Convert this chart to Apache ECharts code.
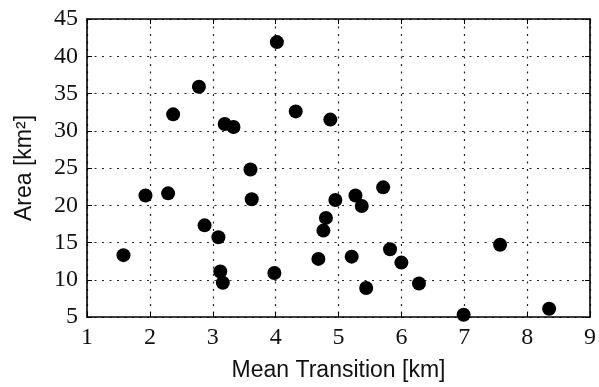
<!DOCTYPE html>
<html>
<head>
<meta charset="utf-8">
<script src="https://cdn.jsdelivr.net/npm/echarts@6/dist/echarts.min.js"></script>
<style>
  html, body { margin: 0; padding: 0; background: #fff; }
  #chart { width: 599px; height: 387px; }
</style>
</head>
<body>
<div id="chart"></div>
<script>
// mean transition [km] and area [km^2] per point
const meanTransition = [
  1.58, 1.93, 2.29, 2.37, 2.78, 2.87, 3.09, 3.12, 3.16, 3.19, 3.33,
  3.60, 3.62, 4.02, 3.98, 4.32, 4.68, 4.76, 4.80, 4.87, 4.95, 5.21,
  5.27, 5.37, 5.44, 5.71, 5.82, 6.00, 6.28, 6.99, 7.57, 8.35
];
const area = [
  13.3, 21.3, 21.6, 32.2, 35.9, 17.3, 15.7, 11.1, 9.6, 30.9, 30.5,
  24.8, 20.8, 41.9, 10.9, 32.6, 12.8, 16.6, 18.3, 31.5, 20.7, 13.1,
  21.3, 19.9, 8.9, 22.4, 14.1, 12.3, 9.5, 5.3, 14.7, 6.1
];
const xTicks = ['1', '2', '3', '4', '5', '6', '7', '8', '9'];
const yTicks = ['5', '10', '15', '20', '25', '30', '35', '40', '45'];

const points = meanTransition.map((x, i) => [x, area[i]]);

const chart = echarts.init(document.getElementById('chart'), null, { renderer: 'canvas' });

const tickFont = {
  fontFamily: 'Liberation Serif',
  fontSize: 24,
  color: '#111'
};

const gridLine = {
  show: true,
  lineStyle: { color: '#222', width: 1.2, type: [2, 5.5] }
};

const frameLine = { show: true, onZero: false, lineStyle: { color: '#000', width: 1.6 } };
const innerTick = { show: true, inside: true, length: 5, lineStyle: { color: '#000', width: 1 } };

chart.setOption({
  animation: false,
  grid: { left: 87, right: 6, top: 19, bottom: 64, containLabel: false },
  xAxis: [
    {
      type: 'value',
      min: 1, max: 9, interval: 1,
      name: 'Mean Transition [km]',
      nameLocation: 'middle',
      nameGap: 42,
      nameTextStyle: { fontFamily: 'Liberation Sans', fontSize: 23, color: '#111' },
      axisLine: frameLine,
      axisTick: innerTick,
      splitLine: gridLine,
      axisLabel: Object.assign({ margin: 9, formatter: v => xTicks[v - 1] }, tickFont)
    },
    {
      type: 'value', position: 'top',
      min: 1, max: 9, interval: 1,
      axisLine: frameLine,
      axisTick: innerTick,
      splitLine: { show: false },
      axisLabel: { show: false }
    }
  ],
  yAxis: [
    {
      type: 'value',
      min: 5, max: 45, interval: 5,
      name: 'Area [km²]',
      nameLocation: 'middle',
      nameGap: 51,
      nameRotate: 90,
      nameTextStyle: { fontFamily: 'Liberation Sans', fontSize: 23, color: '#111' },
      axisLine: frameLine,
      axisTick: innerTick,
      splitLine: gridLine,
      axisLabel: Object.assign({ margin: 9, formatter: v => yTicks[(v - 5) / 5] }, tickFont)
    },
    {
      type: 'value', position: 'right',
      min: 5, max: 45, interval: 5,
      axisLine: frameLine,
      axisTick: innerTick,
      splitLine: { show: false },
      axisLabel: { show: false }
    }
  ],
  series: [
    {
      type: 'scatter',
      data: points,
      symbol: 'circle',
      symbolSize: 14,
      itemStyle: { color: '#000', opacity: 1 },
      z: 3
    }
  ]
});
</script>
</body>
</html>
